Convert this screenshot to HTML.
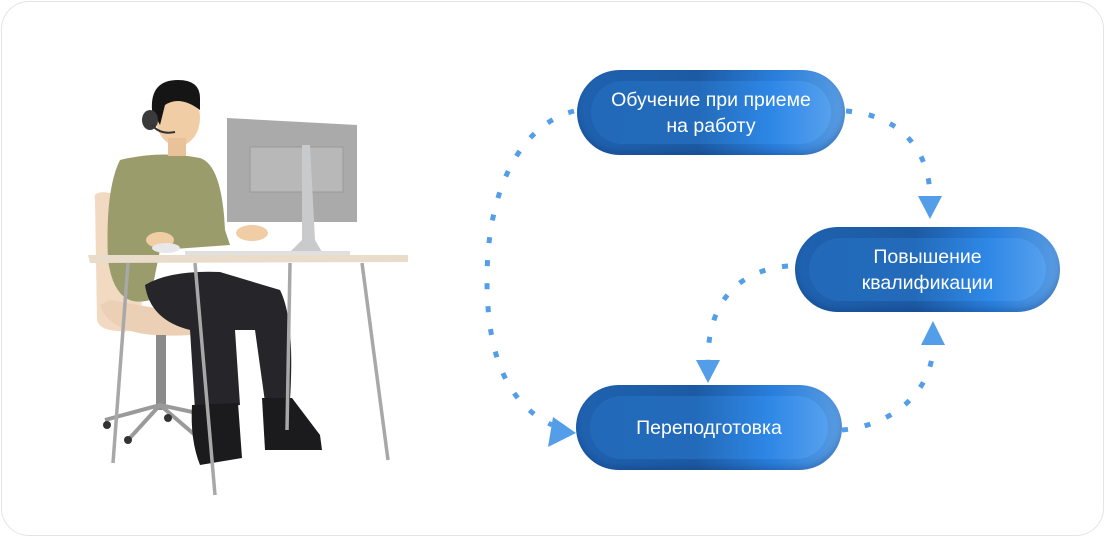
<!DOCTYPE html>
<html><head><meta charset="utf-8"><style>
html,body{margin:0;padding:0;background:#fff;}
body{width:1107px;height:539px;position:relative;overflow:hidden;font-family:"Liberation Sans",sans-serif;}
.card{position:absolute;left:1px;top:1px;width:1103px;height:535px;border:1.5px solid #e4e4e4;border-radius:28px;box-sizing:border-box;}
.pill{position:absolute;border-radius:43px;background:linear-gradient(90deg,#1f62b0 0%,#1d5aa3 45%,#2a80dd 75%,#5a9be0 100%);box-shadow:inset 0 -4px 6px rgba(10,40,100,.25);}
.pill .in{position:absolute;left:14px;right:14px;top:11px;bottom:11px;border-radius:32px;background:linear-gradient(90deg,#226ab9 0%,#236bba 45%,#2e87e6 75%,#56a0ee 100%);display:flex;align-items:center;justify-content:center;text-align:center;color:#fff;font-size:19.5px;line-height:26px;}
</style></head><body>
<div class="card"></div>
<svg width="1107" height="539" style="position:absolute;left:0;top:0">
<g fill="none" stroke="#549ee9" stroke-width="5" stroke-dasharray="6 17">
<path d="M574,111 C520,125 487,190 487,280 C487,360 510,405 552,425"/>
<path d="M846,111 C900,115 930,150 930,198"/>
<path d="M788,266 C740,270 708,300 708,360"/>
<path d="M842,430 C895,425 933,390 933,345"/>
</g>
<g fill="#549ee9">
<polygon points="576,433 553,417 548,447"/>
<polygon points="930,219 918,196 942,196"/>
<polygon points="708,383 696,360 720,360"/>
<polygon points="933,321 921,345 945,345"/>
</g>
<g>
<path d="M95,200 Q92,190 110,193 L140,200 L142,330 Q100,335 97,320 Z" fill="#f2d9c2"/>
<path d="M100,305 Q110,340 190,335 L195,315 L110,300 Z" fill="#ecd0b6"/>
<rect x="156" y="335" width="10" height="75" fill="#8a8a8a"/>
<path d="M105,420 L160,405 L230,420 M160,405 L128,440 M160,405 L195,435" stroke="#9a9a9a" stroke-width="4" fill="none"/>
<circle cx="107" cy="425" r="4" fill="#333"/><circle cx="128" cy="440" r="4" fill="#333"/><circle cx="232" cy="423" r="4" fill="#333"/><circle cx="168" cy="418" r="4" fill="#333"/>
<path d="M120,160 Q160,150 200,158 Q222,165 225,230 L230,245 L160,250 L150,300 Q115,310 108,260 Q105,190 120,160 Z" fill="#9a9c6c"/>
<path d="M145,285 Q170,270 220,272 L280,290 Q295,320 290,400 L265,402 L255,330 L235,330 L240,405 L195,410 L190,330 Q150,320 145,285 Z" fill="#26262a"/>
<path d="M192,405 L238,403 L242,458 L200,465 Q190,440 192,405 Z" fill="#1b1b1d"/>
<path d="M262,398 L292,398 L320,435 L322,450 L265,450 Z" fill="#1b1b1d"/>
<ellipse cx="178" cy="118" rx="22" ry="28" fill="#f1cda5"/>
<rect x="168" y="138" width="18" height="18" fill="#eac29a"/>
<path d="M152,110 Q150,80 178,80 Q200,80 200,98 L200,110 Q180,95 165,105 L160,125 Z" fill="#151515"/>
<ellipse cx="150" cy="120" rx="8" ry="10" fill="#3a3a3a"/>
<path d="M152,125 Q160,135 175,132" stroke="#333" stroke-width="2" fill="none"/>
<ellipse cx="160" cy="240" rx="14" ry="8" fill="#f1cda5"/>
<ellipse cx="252" cy="233" rx="16" ry="8" fill="#f1cda5"/>
<ellipse cx="166" cy="248" rx="14" ry="5" fill="#e8e8ea"/>
<path d="M227,118 L357,125 L357,222 L227,222 Z" fill="#a9aaa9"/>
<rect x="250" y="147" width="93" height="45" fill="#b7b8b7" stroke="#9a9a9a"/>
<path d="M302,145 L310,145 L315,240 L322,252 L290,252 L302,240 Z" fill="#c9cacb"/>
<rect x="185" y="251" width="165" height="4" fill="#e0e0e0"/>
<path d="M88,255 L408,255 L408,262 L90,263 Z" fill="#e9dccb"/>
<g stroke="#a8a8a8" stroke-width="3.5">
<line x1="128" y1="263" x2="113" y2="463"/>
<line x1="195" y1="263" x2="215" y2="495"/>
<line x1="290" y1="263" x2="287" y2="430"/>
<line x1="362" y1="263" x2="388" y2="460"/>
</g>
</g>
</svg>
<div class="pill" style="left:577px;top:70px;width:268px;height:85px"><div class="in">Обучение при приеме<br>на работу</div></div>
<div class="pill" style="left:795px;top:227px;width:265px;height:85px"><div class="in">Повышение<br>квалификации</div></div>
<div class="pill" style="left:576px;top:385px;width:266px;height:85px"><div class="in">Переподготовка</div></div>
</body></html>
